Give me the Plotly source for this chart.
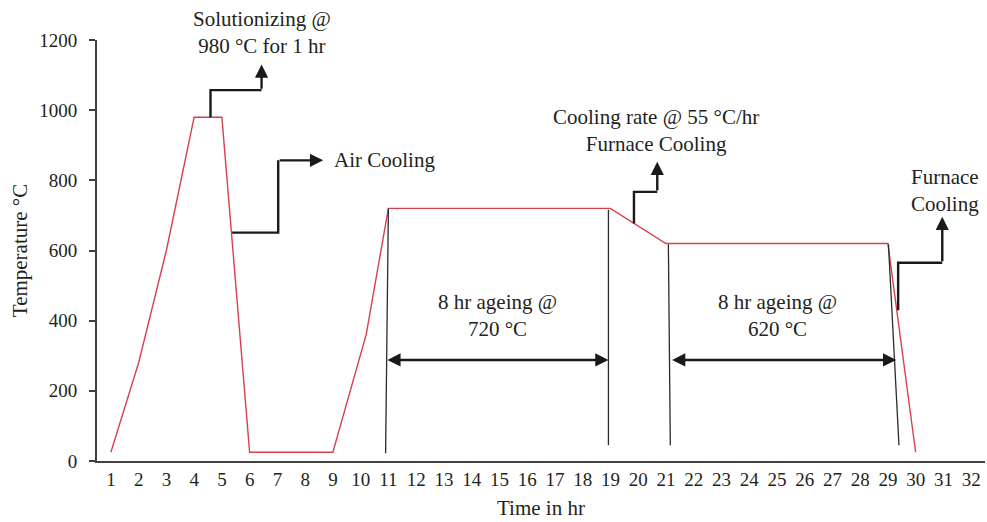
import plotly.graph_objects as go

# ---- data ----
time_hr = [1, 2, 3, 4, 5, 6, 9, 10.2, 11, 19, 21, 29, 30]
temp_c = [25, 280, 600, 980, 980, 25, 25, 360, 720, 720, 620, 620, 25]

x_ticks = list(range(1, 33))
y_ticks = [0, 200, 400, 600, 800, 1000, 1200]

# ageing window markers (x_top, y_top, x_bottom, y_bottom)
markers = [
    (11.0, 720, 10.9, 22),
    (18.93, 716, 18.93, 45),
    (21.09, 618, 21.16, 45),
    (29.02, 618, 29.4, 45),
]
# double arrows (x_start, x_end, y)
spans = [(10.91, 18.93, 288), (21.17, 29.3, 288)]
span_labels = ["8 hr ageing @<br>720 °C", "8 hr ageing @<br>620 °C"]
span_label_x = [14.95, 25.04]
span_label_y = 416

# elbow arrows: list of points, last segment ends with arrowhead
elbows = [
    [(4.59, 980), (4.59, 1057), (6.43, 1057), (6.43, 1130)],
    [(5.37, 651), (7.03, 651), (7.03, 857), (8.65, 857)],
    [(19.85, 677), (19.85, 767), (20.69, 767), (20.69, 853)],
    [(29.37, 430), (29.37, 565), (30.96, 565), (30.96, 696)],
]
notes = [
    ("Solutionizing @<br>980 °C for 1 hr", 6.45, 1222, "center"),
    ("Air Cooling", 8.97, 857, "left"),
    ("Cooling rate @ 55 °C/hr<br>Furnace Cooling", 20.66, 943, "center"),
    ("Furnace<br>Cooling", 31.05, 772, "center"),
]
Y_MAX = 1200

FONT = "Liberation Serif"
TXT = "#231f20"
NOTE_SIZE = 21
TICK_SIZE = 19

fig = go.Figure()
fig.add_trace(go.Scatter(x=time_hr, y=temp_c, mode="lines",
                         line=dict(color="#d6404f", width=1.4),
                         hoverinfo="skip", showlegend=False))

shapes = []
annotations = []
for xt, yt, xb, yb in markers:
    shapes.append(dict(type="line", xref="x", yref="y", x0=xt, y0=yt, x1=xb, y1=yb,
                       line=dict(color="#2b2b2b", width=1.3)))

for (x0, x1, y) in spans:
    annotations.append(dict(x=x1, y=y, ax=x0, ay=y, xref="x", yref="y",
                            axref="x", ayref="y", text="", showarrow=True,
                            arrowhead=2, startarrowhead=2, arrowside="end+start",
                            arrowsize=1.1, arrowwidth=2.4, arrowcolor="#1a1a1a",
                            standoff=0, startstandoff=0))
for lbl, lx in zip(span_labels, span_label_x):
    annotations.append(dict(x=lx, y=span_label_y, xref="x", yref="y", text=lbl,
                            showarrow=False, align="center",
                            font=dict(family=FONT, size=NOTE_SIZE, color=TXT)))

for pts in elbows:
    path = "M " + " L ".join(f"{px},{py}" for px, py in pts[:-1])
    shapes.append(dict(type="path", xref="x", yref="y", path=path,
                       line=dict(color="#1a1a1a", width=2.4)))
    (ax, ay), (tx, ty) = pts[-2], pts[-1]
    annotations.append(dict(x=tx, y=ty, ax=ax, ay=ay, xref="x", yref="y",
                            axref="x", ayref="y", text="", showarrow=True,
                            arrowhead=2, arrowsize=1.1, arrowwidth=2.4,
                            arrowcolor="#1a1a1a", standoff=0))

for text, nx, ny, al in notes:
    inside = ny <= Y_MAX
    annotations.append(dict(x=nx, y=ny if inside else ny / Y_MAX,
                            xref="x", yref="y" if inside else "paper", text=text,
                            showarrow=False, align="center",
                            xanchor="left" if al == "left" else "center",
                            yanchor="middle",
                            font=dict(family=FONT, size=NOTE_SIZE, color=TXT)))

fig.update_layout(
    width=987, height=522,
    margin=dict(l=97, r=2, t=40, b=61),
    plot_bgcolor="white", paper_bgcolor="white",
    font=dict(family=FONT, size=TICK_SIZE, color=TXT),
    shapes=shapes, annotations=annotations,
    xaxis=dict(range=[0.5, 32.5], tickvals=x_ticks, ticktext=[str(v) for v in x_ticks],
               showline=True, linecolor="#404040", linewidth=2, ticks="",
               showgrid=False, zeroline=False,
               tickfont=dict(family=FONT, size=TICK_SIZE, color=TXT),
               title=dict(text="Time in hr", font=dict(family=FONT, size=NOTE_SIZE, color=TXT),
                          standoff=12)),
    yaxis=dict(range=[0, Y_MAX], tickvals=y_ticks, showline=True, linecolor="#404040",
               linewidth=2, ticks="outside", ticklen=6, tickwidth=2, tickcolor="#404040",
               ticklabelstandoff=8,
               showgrid=False, zeroline=False,
               tickfont=dict(family=FONT, size=TICK_SIZE, color=TXT),
               title=dict(text="Temperature °C", font=dict(family=FONT, size=NOTE_SIZE, color=TXT),
                          standoff=6)),
)

fig.write_html("out.html")
